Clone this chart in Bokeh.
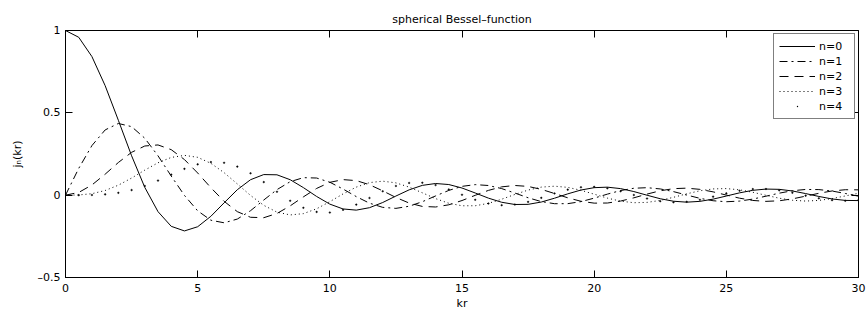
from bokeh.plotting import figure
from bokeh.models import Range1d, FixedTicker, LinearAxis, CustomJSTickFormatter, Legend, LegendItem
from bokeh.embed import file_html
from bokeh.resources import INLINE

# ---- data ----
kr = [0.0, 0.5, 1.0, 1.5, 2.0, 2.5, 3.0, 3.5, 4.0, 4.5, 5.0, 5.5, 6.0, 6.5, 7.0, 7.5,
      8.0, 8.5, 9.0, 9.5, 10.0, 10.5, 11.0, 11.5, 12.0, 12.5, 13.0, 13.5, 14.0, 14.5,
      15.0, 15.5, 16.0, 16.5, 17.0, 17.5, 18.0, 18.5, 19.0, 19.5, 20.0, 20.5, 21.0,
      21.5, 22.0, 22.5, 23.0, 23.5, 24.0, 24.5, 25.0, 25.5, 26.0, 26.5, 27.0, 27.5,
      28.0, 28.5, 29.0, 29.5, 30.0]

j0 = [1.0, 0.9589, 0.8415, 0.6650, 0.4546, 0.2394, 0.0470, -0.1002, -0.1892, -0.2172,
      -0.1918, -0.1283, -0.0466, 0.0331, 0.0939, 0.1251, 0.1237, 0.0939, 0.0458, -0.0079,
      -0.0544, -0.0838, -0.0909, -0.0761, -0.0447, -0.0053, 0.0323, 0.0595, 0.0708, 0.0645,
      0.0434, 0.0133, -0.0180, -0.0431, -0.0566, -0.0558, -0.0417, -0.0185, 0.0079, 0.0311,
      0.0456, 0.0486, 0.0398, 0.0219, -0.0004, -0.0217, -0.0368, -0.0425, -0.0377, -0.0241,
      -0.0053, 0.0141, 0.0293, 0.0370, 0.0354, 0.0254, 0.0097, -0.0079, -0.0229, -0.0319,
      -0.0329]

j1 = [0.0, 0.1625, 0.3012, 0.3962, 0.4354, 0.4162, 0.3457, 0.2389, 0.1161, -0.0014,
      -0.0951, -0.1522, -0.1678, -0.1452, -0.0943, -0.0295, 0.0336, 0.0819, 0.1063, 0.1041,
      0.0785, 0.0373, -0.0087, -0.0486, -0.0740, -0.0802, -0.0673, -0.0397, -0.0047, 0.0289,
      0.0535, 0.0640, 0.0587, 0.0400, 0.0129, -0.0157, -0.0390, -0.0518, -0.0516, -0.0392,
      -0.0181, 0.0063, 0.0280, 0.0420, 0.0454, 0.0379, 0.0216, 0.0008, -0.0192, -0.0339,
      -0.0399, -0.0360, -0.0238, -0.0062, 0.0121, 0.0269, 0.0347, 0.0339, 0.0250, 0.0104,
      -0.0062]

j2 = [0.0, 0.0164, 0.0620, 0.1274, 0.1984, 0.2601, 0.2986, 0.3050, 0.2763, 0.2163,
      0.1347, 0.0453, -0.0373, -0.1001, -0.1343, -0.1369, -0.1111, -0.0650, -0.0103, 0.0408,
      0.0779, 0.0944, 0.0885, 0.0635, 0.0262, -0.0140, -0.0479, -0.0684, -0.0718, -0.0585,
      -0.0326, -0.0009, 0.0290, 0.0504, 0.0588, 0.0531, 0.0352, 0.0101, -0.0160, -0.0371,
      -0.0484, -0.0477, -0.0358, -0.0161, 0.0066, 0.0267, 0.0396, 0.0426, 0.0353, 0.0200,
      0.0005, -0.0183, -0.0321, -0.0377, -0.0341, -0.0225, -0.0060, 0.0114, 0.0255, 0.0330,
      0.0323]

j3 = [0.0, 0.0012, 0.0090, 0.0283, 0.0607, 0.1039, 0.1521, 0.1968, 0.2292, 0.2417,
      0.2298, 0.1933, 0.1367, 0.0682, -0.0016, -0.0617, -0.1031, -0.1201, -0.1121, -0.0827,
      -0.0395, 0.0077, 0.0489, 0.0762, 0.0850, 0.0747, 0.0489, 0.0143, -0.0209, -0.0491,
      -0.0644, -0.0643, -0.0497, -0.0247, 0.0044, 0.0309, 0.0488, 0.0545, 0.0474, 0.0297,
      0.0060, -0.0179, -0.0365, -0.0458, -0.0439, -0.0319, -0.0130, 0.0082, 0.0266, 0.0380,
      0.0400, 0.0325, 0.0176, -0.0009, -0.0184, -0.0310, -0.0358, -0.0319, -0.0206, -0.0048,
      0.0116]

j4 = [0.0, 0.0001, 0.0010, 0.0048, 0.0141, 0.0309, 0.0561, 0.0886, 0.1249, 0.1598,
      0.1870, 0.2008, 0.1968, 0.1735, 0.1327, 0.0793, 0.0209, -0.0339, -0.0768, -0.1017,
      -0.1056, -0.0893, -0.0574, -0.0171, 0.0234, 0.0558, 0.0742, 0.0758, 0.0613, 0.0348,
      0.0026, -0.0281, -0.0507, -0.0609, -0.0570, -0.0407, -0.0163, 0.0105, 0.0335, 0.0478,
      0.0505, 0.0416, 0.0237, 0.0012, -0.0206, -0.0366, -0.0435, -0.0401, -0.0276, -0.0091,
      0.0107, 0.0272, 0.0368, 0.0374, 0.0293, 0.0146, -0.0030, -0.0193, -0.0304, -0.0341,
      -0.0296]

series_labels = ["n=0", "n=1", "n=2", "n=3", "n=4"]
x_ticks = [0, 5, 10, 15, 20, 25, 30]
y_ticks = [-0.5, 0, 0.5, 1]
y_tick_labels = {-0.5: "\u20130.5", 0: "0", 0.5: "0.5", 1: "1"}

FONT = "DejaVu Sans"
FS = "11px"

p = figure(width=867, height=312, output_backend="svg", toolbar_location=None,
           x_range=Range1d(0, 30), y_range=Range1d(-0.5, 1),
           min_border_left=65, min_border_right=9, min_border_top=30,
           min_border_bottom=32, background_fill_color="white",
           border_fill_color="white")

p.title.text = "spherical Bessel\u2013function"
p.title.align = "center"
p.title.text_font = FONT
p.title.text_font_size = FS
p.title.text_font_style = "normal"
p.title.text_color = "black"
p.title.standoff = 10
p.title.offset = 0

p.grid.visible = False
p.outline_line_color = "black"
p.outline_line_width = 1
p.outline_line_alpha = 1

for ax in (p.xaxis[0], p.yaxis[0]):
    ax.axis_line_color = "black"
    ax.major_tick_line_color = "black"
    ax.major_tick_in = 7
    ax.major_tick_out = 0
    ax.minor_tick_in = 0
    ax.minor_tick_out = 0
    ax.major_label_text_font = FONT
    ax.major_label_text_font_size = FS
    ax.major_label_text_color = "black"
    ax.axis_label_text_font = FONT
    ax.axis_label_text_font_size = FS
    ax.axis_label_text_font_style = "normal"
    ax.axis_label_text_color = "black"

p.xaxis[0].ticker = FixedTicker(ticks=x_ticks)
p.xaxis[0].axis_label = "kr"
p.xaxis[0].major_label_standoff = 6
p.xaxis[0].axis_label_standoff = 2

p.yaxis[0].ticker = FixedTicker(ticks=y_ticks)
p.yaxis[0].major_label_overrides = y_tick_labels
p.yaxis[0].axis_label = "j\u2099(kr)"
p.yaxis[0].major_label_standoff = 5
p.yaxis[0].axis_label_standoff = 11

blank = CustomJSTickFormatter(code="return '';")
top = LinearAxis(ticker=FixedTicker(ticks=x_ticks), formatter=blank,
                 major_tick_in=7, major_tick_out=0, minor_tick_in=0, minor_tick_out=0,
                 axis_line_color=None, major_tick_line_color="black",
                 major_label_text_font_size="0px", major_label_standoff=0)
p.add_layout(top, "above")
right = LinearAxis(ticker=FixedTicker(ticks=y_ticks), formatter=blank,
                   major_tick_in=7, major_tick_out=0, minor_tick_in=0, minor_tick_out=0,
                   axis_line_color=None, major_tick_line_color="black",
                   major_label_text_font_size="0px", major_label_standoff=0)
p.add_layout(right, "right")

r0 = p.line(kr, j0, line_color="black", line_width=1)
r1 = p.line(kr, j1, line_color="black", line_width=1, line_dash="8 4 2 4")
r2 = p.line(kr, j2, line_color="black", line_width=1, line_dash="9 6")
r3 = p.line(kr, j3, line_color="black", line_width=1, line_dash="1 3")
r4 = p.scatter(kr, j4, marker="circle", size=1.6, fill_color="black",
               line_color="black", line_width=0.5)
# legend swatch for the point series: a tiny dot in the middle of the key
r4_key = p.scatter(x=[float("nan")], y=[float("nan")], marker="dot", size=14,
                   line_color="black", fill_color="black")

lg = Legend(items=[LegendItem(label=series_labels[0], renderers=[r0]),
                   LegendItem(label=series_labels[1], renderers=[r1]),
                   LegendItem(label=series_labels[2], renderers=[r2]),
                   LegendItem(label=series_labels[3], renderers=[r3]),
                   LegendItem(label=series_labels[4], renderers=[r4_key])])
lg.location = "top_right"
lg.margin = 3
lg.padding = 5
lg.spacing = 1
lg.glyph_width = 36
lg.glyph_height = 14
lg.label_height = 14
lg.label_width = 30
lg.label_standoff = 4
lg.label_text_font = FONT
lg.label_text_font_size = FS
lg.label_text_color = "black"
lg.border_line_color = "black"
lg.border_line_width = 1
lg.background_fill_color = "white"
lg.background_fill_alpha = 1
p.add_layout(lg)

open("out.html", "w").write(file_html(p, INLINE))
